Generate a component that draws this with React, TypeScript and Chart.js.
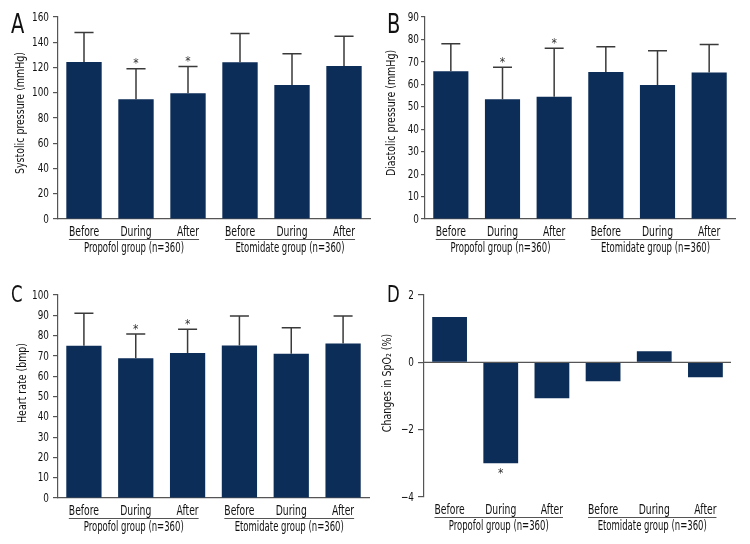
import React, { useEffect, useRef } from "react";
import { Chart, registerables } from "chart.js";

Chart.register(...registerables);

// ---------- data ----------
const categories = ["Before", "During", "After", "Before", "During", "After"];
const groupLabels = ["Propofol group (n=360)", "Etomidate group (n=360)"];

const systolicMean = [124.4, 94.8, 99.6, 124.1, 106.1, 121.2];
const systolicUpper = [147.8, 119.0, 120.8, 147.0, 130.9, 144.7];
const systolicStars = [false, true, true, false, false, false];

const diastolicMean = [65.8, 53.3, 54.5, 65.5, 59.7, 65.3];
const diastolicUpper = [78.1, 67.6, 76.1, 76.8, 75.0, 77.8];
const diastolicStars = [false, true, true, false, false, false];

const heartMean = [75.0, 68.9, 71.4, 75.1, 71.0, 76.1];
const heartUpper = [91.0, 80.8, 83.1, 89.7, 83.9, 89.7];
const heartStars = [false, true, true, false, false, false];

const spo2Change = [1.35, -3.0, -1.07, -0.56, 0.33, -0.44];
const spo2Stars = [false, true, false, false, false, false];

// ---------- styles ----------
const FONT = "'DejaVu Sans Condensed', 'DejaVu Sans', sans-serif";
const BAR = "#0b2d58";
const AXIS = "#555555";
const TEXT = "#111111";
const ERR = "#3a3a3a";

type Panel = {
  letter: string;
  values: number[];
  upper?: number[];
  stars: boolean[];
  yTitle: string;
  min: number;
  max: number;
  step: number;
  W: number;
  T: number;
  R: number;
  H: number;
  titleX: number;
  titleY: number;
  tickLen: number;
  tickPad: number;
  zeroLine?: boolean;
  starBelow?: boolean;
  letterSize: number;
  letterBase: number;
  letterX: number;
};

const panels: Panel[] = [
  {
    letter: "A", values: systolicMean, upper: systolicUpper, stars: systolicStars,
    yTitle: "Systolic pressure (mmHg)", min: 0, max: 160, step: 20,
    W: 58, T: 17, R: 5, H: 53, titleX: 21, titleY: 113, tickLen: 5, tickPad: 4,
    letterSize: 27, letterBase: 33, letterX: 11,
  },
  {
    letter: "B", values: diastolicMean, upper: diastolicUpper, stars: diastolicStars,
    yTitle: "Diastolic pressure (mmHg)", min: 0, max: 90, step: 10,
    W: 50, T: 17, R: 15, H: 53, titleX: 17, titleY: 113, tickLen: 4, tickPad: 2,
    letterSize: 27, letterBase: 33, letterX: 12,
  },
  {
    letter: "C", values: heartMean, upper: heartUpper, stars: heartStars,
    yTitle: "Heart rate (bmp)", min: 0, max: 100, step: 10,
    W: 58, T: 23, R: 6, H: 46, titleX: 22.5, titleY: 111, tickLen: 5, tickPad: 4,
    letterSize: 23, letterBase: 29.5, letterX: 11,
  },
  {
    letter: "D", values: spo2Change, stars: spo2Stars,
    yTitle: "Changes in SpO\u2082 (%)", min: -4, max: 2, step: 2,
    W: 49, T: 23, R: 19, H: 47, titleX: 12.5, titleY: 111, tickLen: 6, tickPad: 4,
    zeroLine: true, starBelow: true,
    letterSize: 23, letterBase: 29.5, letterX: 12,
  },
];

function drawText(
  ctx: CanvasRenderingContext2D,
  text: string,
  x: number,
  y: number,
  size: number,
  sx: number,
  align: CanvasTextAlign = "center",
  baseline: CanvasTextBaseline = "middle",
  rot = 0,
  color = TEXT
) {
  ctx.save();
  ctx.translate(x, y);
  if (rot) ctx.rotate(rot);
  ctx.scale(sx, 1);
  ctx.font = `${size}px ${FONT}`;
  ctx.fillStyle = color;
  ctx.textAlign = align;
  ctx.textBaseline = baseline;
  ctx.fillText(text, 0, 0);
  ctx.restore();
}

function textWidth(ctx: CanvasRenderingContext2D, text: string, size: number, sx: number) {
  ctx.save();
  ctx.font = `${size}px ${FONT}`;
  const w = ctx.measureText(text).width * sx;
  ctx.restore();
  return w;
}

const XS = 13.5; // x label size
const XSX = 0.76;
const GS = 13.5;
const GSX = 0.7;
const YS = 12;
const YSX = 0.82;

const annotPlugin = {
  id: "annot",
  beforeDatasetsDraw(chart: any, _args: any, opts: any) {
    if (!opts.zeroLine) return;
    const { ctx, chartArea } = chart;
    const y = chart.scales.y.getPixelForValue(0);
    ctx.save();
    ctx.strokeStyle = AXIS;
    ctx.lineWidth = 1.2;
    ctx.beginPath();
    ctx.moveTo(chartArea.left, y);
    ctx.lineTo(chartArea.right, y);
    ctx.stroke();
    ctx.restore();
  },
  afterDatasetsDraw(chart: any, _args: any, opts: any) {
    const { ctx } = chart;
    const ys = chart.scales.y;
    const meta = chart.getDatasetMeta(0);
    ctx.save();
    meta.data.forEach((bar: any, i: number) => {
      const { x, y, width } = bar.getProps(["x", "y", "width"], true);
      let starY = y - 6;
      if (opts.upper) {
        const yu = ys.getPixelForValue(opts.upper[i]);
        const half = width * 0.27;
        ctx.strokeStyle = ERR;
        ctx.lineWidth = 1.5;
        ctx.beginPath();
        ctx.moveTo(x, y);
        ctx.lineTo(x, yu);
        ctx.moveTo(x - half, yu);
        ctx.lineTo(x + half, yu);
        ctx.stroke();
        starY = yu - 6;
      }
      if (opts.stars[i]) {
        if (opts.starBelow) starY = y + 9;
        drawText(ctx, "*", x, starY + 1.5, 12, 1, "center", "middle", 0, "#333");
      }
    });
    ctx.restore();
  },
  afterDraw(chart: any, _args: any, opts: any) {
    const { ctx, chartArea } = chart;
    const xs = chart.scales.x;
    const ys = chart.scales.y;
    const b = chartArea.bottom;
    ctx.save();
    // x category labels
    xs.ticks.forEach((_t: any, i: number) => {
      const x = xs.getPixelForTick(i);
      drawText(ctx, String(chart.data.labels[i]), x, b + 13, XS, XSX);
    });
    // y tick labels
    ys.ticks.forEach((t: any, i: number) => {
      const y = ys.getPixelForTick(i);
      const label = String(t.value).replace("-", "\u2212");
      drawText(ctx, label, chartArea.left - opts.tickLen - opts.tickPad, y + 0.5, YS, YSX, "right", "middle");
    });
    // y title
    drawText(ctx, opts.yTitle, opts.titleX, opts.titleY, 12.5, 0.84, "center", "middle", -Math.PI / 2);
    // group labels
    ctx.strokeStyle = AXIS;
    ctx.lineWidth = 1;
    groupLabels.forEach((g, gi) => {
      const i0 = gi * 3;
      const i2 = gi * 3 + 2;
      const x0 = xs.getPixelForValue(i0) - textWidth(ctx, categories[i0], XS, XSX) / 2;
      const x1 = xs.getPixelForValue(i2) + textWidth(ctx, categories[i2], XS, XSX) / 2;
      ctx.beginPath();
      ctx.moveTo(x0, b + 20.5);
      ctx.lineTo(x1, b + 20.5);
      ctx.stroke();
      drawText(ctx, g, (x0 + x1) / 2, b + 29.5, GS, GSX);
    });
    // panel letter
    drawText(ctx, opts.letter, opts.letterX, opts.letterBase, opts.letterSize, 0.8, "left", "alphabetic", 0, "#111");
    ctx.restore();
  },
};

function PanelChart({ p }: { p: Panel }) {
  const ref = useRef<HTMLCanvasElement | null>(null);
  useEffect(() => {
    if (!ref.current) return;
    const chart = new Chart(ref.current, {
      type: "bar",
      data: {
        labels: categories,
        datasets: [
          {
            data: p.values,
            backgroundColor: BAR,
            borderWidth: 0,
            categoryPercentage: 1,
            barPercentage: 0.68,
          },
        ],
      },
      plugins: [annotPlugin as any],
      options: {
        animation: false,
        responsive: false,
        maintainAspectRatio: false,
        layout: { padding: { left: 0, top: p.T, right: p.R, bottom: 0 } },
        plugins: {
          legend: { display: false },
          tooltip: { enabled: false },
          annot: {
            upper: p.upper,
            stars: p.stars,
            zeroLine: p.zeroLine,
            starBelow: p.starBelow,
            letter: p.letter,
            letterSize: p.letterSize,
            letterBase: p.letterBase,
            letterX: p.letterX,
            tickLen: p.tickLen,
            tickPad: p.tickPad,
            yTitle: p.yTitle,
            titleX: p.titleX,
            titleY: p.titleY,
          },
        } as any,
        scales: {
          x: {
            grid: { display: false, drawTicks: false },
            border: { display: !p.zeroLine, color: AXIS, width: 1.2 },
            ticks: { display: false },
            afterFit: (s: any) => {
              s.height = p.H;
            },
          },
          y: {
            min: p.min,
            max: p.max,
            grid: { drawOnChartArea: false, drawTicks: true, tickLength: p.tickLen, color: AXIS, lineWidth: 1.2 },
            border: { display: true, color: AXIS, width: 1.2 },
            ticks: { display: false, stepSize: p.step },
            title: { display: false },
            afterFit: (s: any) => {
              s.width = p.W;
            },
          },
        },
      },
    });
    return () => chart.destroy();
  }, [p]);
  return <canvas ref={ref} width={375} height={272} style={{ width: 375, height: 272, display: "block" }} />;
}

export default function App() {
  return (
    <div style={{ position: "absolute", left: 0, top: 0, width: 750, height: 544, background: "#fff" }}>
      <div style={{ position: "absolute", left: 0, top: 0 }}><PanelChart p={panels[0]} /></div>
      <div style={{ position: "absolute", left: 375, top: 0 }}><PanelChart p={panels[1]} /></div>
      <div style={{ position: "absolute", left: 0, top: 272 }}><PanelChart p={panels[2]} /></div>
      <div style={{ position: "absolute", left: 375, top: 272 }}><PanelChart p={panels[3]} /></div>
    </div>
  );
}
